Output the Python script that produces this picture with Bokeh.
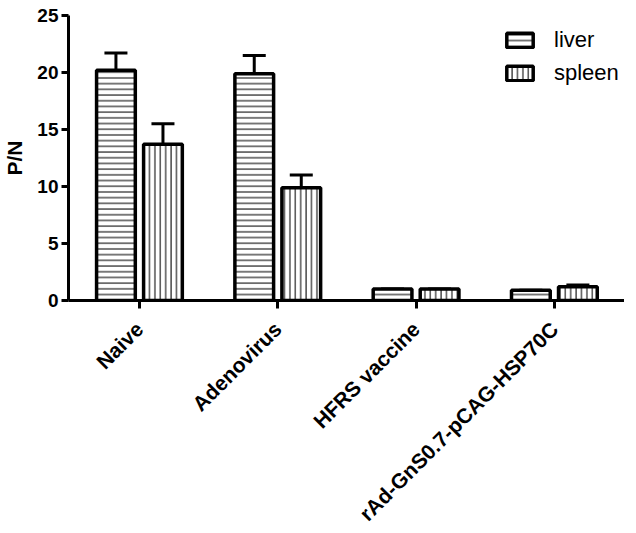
import math
from bokeh.plotting import figure
from bokeh.models import ColumnDataSource, FixedTicker, Whisker, TeeHead, Legend, LegendItem
from bokeh.embed import file_html
from bokeh.resources import INLINE

categories = ["Naive", "Adenovirus", "HFRS vaccine", "rAd-GnS0.7-pCAG-HSP70C"]
liver = [20.2, 19.9, 1.0, 0.9]
liver_err = [1.5, 1.6, 0.0, 0.0]
spleen = [13.7, 9.9, 1.0, 1.2]
spleen_err = [1.8, 1.1, 0.0, 0.15]
y_ticks = [0, 5, 10, 15, 20, 25]

pos = [i + 1 for i in range(len(categories))]
OFF = 0.17
W = 0.28

p = figure(frame_width=556, frame_height=285, x_range=(0.487, 4.507), y_range=(0, 25),
           output_backend="svg", toolbar_location=None,
           min_border_left=64, min_border_right=0, min_border_top=15, min_border_bottom=0)
p.outline_line_color = None
p.xgrid.visible = False
p.ygrid.visible = False
p.background_fill_color = "white"
p.border_fill_color = "white"

src_l = ColumnDataSource(dict(x=[x - OFF for x in pos], top=liver,
                              up=[v + e for v, e in zip(liver, liver_err)]))
src_s = ColumnDataSource(dict(x=[x + OFF for x in pos], top=spleen,
                              up=[v + e for v, e in zip(spleen, spleen_err)]))

r_l = p.vbar(x="x", top="top", bottom=0, width=W, source=src_l, fill_color="white",
             line_color="black", line_width=3.5, hatch_pattern="horizontal_line",
             hatch_color="#333333", hatch_scale=5.7, hatch_weight=1.3)
r_s = p.vbar(x="x", top="top", bottom=0, width=W, source=src_s, fill_color="white",
             line_color="black", line_width=3.5, hatch_pattern="vertical_line",
             hatch_color="#333333", hatch_scale=5.4, hatch_weight=1.3)

for src in (src_l, src_s):
    w = Whisker(base="x", lower="top", upper="up", source=src, dimension="height",
                line_color="black", line_width=3,
                upper_head=TeeHead(size=23, line_width=3, line_color="black"),
                lower_head=None)
    p.add_layout(w)

legend = Legend(items=[LegendItem(label="liver", renderers=[r_l]),
                       LegendItem(label="spleen", renderers=[r_s])],
                location=(435, 214), border_line_color=None, background_fill_alpha=0,
                margin=0, padding=5, glyph_width=33, glyph_height=18, label_height=18,
                spacing=7, label_standoff=18,
                label_text_font="Liberation Sans", label_text_font_size="22px",
                label_text_color="black")
p.add_layout(legend)

# x axis
p.xaxis.ticker = FixedTicker(ticks=pos)
p.xaxis.major_label_overrides = {x: c for x, c in zip(pos, categories)}
p.xaxis.major_label_orientation = math.pi / 4
p.xaxis.major_label_text_font = "Liberation Sans"
p.xaxis.major_label_text_font_style = "bold"
p.xaxis.major_label_text_font_size = "21px"
p.xaxis.major_label_text_color = "black"
p.xaxis.axis_line_width = 3
p.xaxis.major_tick_line_width = 3
p.xaxis.major_tick_out = 8
p.xaxis.major_tick_in = 0
p.xaxis.minor_tick_line_color = None
p.xaxis.major_label_standoff = 17

# y axis
p.yaxis.ticker = FixedTicker(ticks=y_ticks)
p.yaxis.major_label_text_font = "Liberation Sans"
p.yaxis.major_label_text_font_style = "bold"
p.yaxis.major_label_text_font_size = "19px"
p.yaxis.major_label_text_color = "black"
p.yaxis.axis_line_width = 3
p.yaxis.major_tick_line_width = 3
p.yaxis.major_tick_out = 7
p.yaxis.major_tick_in = 0
p.yaxis.minor_tick_line_color = None
p.yaxis.major_label_standoff = 3
p.yaxis.axis_label = "P/N"
p.yaxis.axis_label_text_font = "Liberation Sans"
p.yaxis.axis_label_text_font_style = "bold"
p.yaxis.axis_label_text_font_size = "21px"
p.yaxis.axis_label_text_color = "black"
p.yaxis.axis_label_standoff = 8

open("out.html", "w").write(file_html(p, INLINE))
